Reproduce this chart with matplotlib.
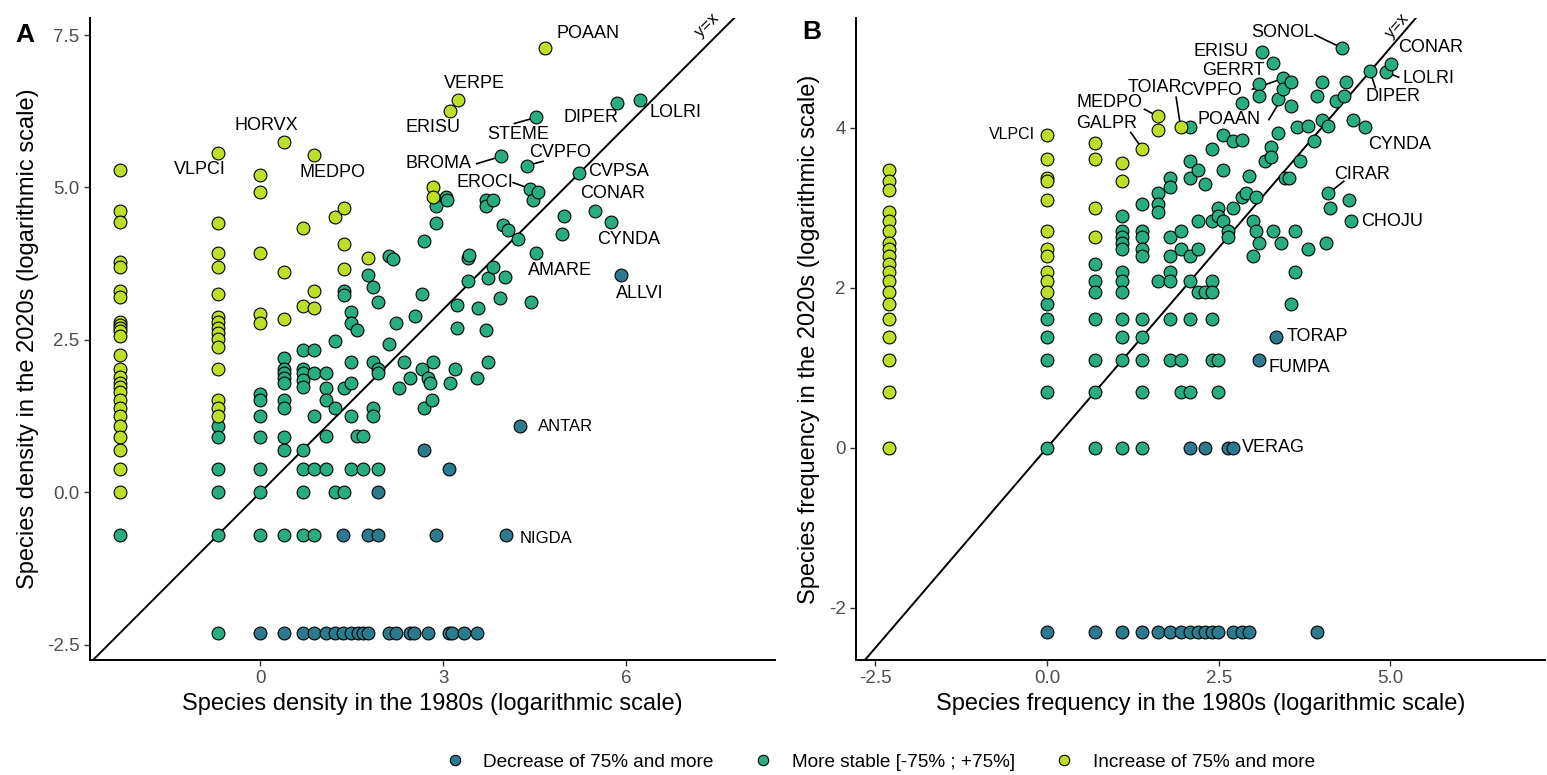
import numpy as np
import matplotlib
matplotlib.use("Agg")
import matplotlib.pyplot as plt
from matplotlib.lines import Line2D

plt.rcParams['font.family'] = ['Liberation Sans', 'DejaVu Sans']
plt.rcParams['axes.unicode_minus'] = False

# colours of the three trend classes
COL_DEC = "#2B7A8E"
COL_STA = "#27AD81"
COL_INC = "#BCDF27"
legend_labels = ["Decrease of 75% and more", "More stable [-75% ; +75%]", "Increase of 75% and more"]

# ---------------- Panel A : densities (log values) ----------------
# increase
a_inc = {
    -2.30: [5.28, 4.61, 4.43, 3.77, 3.69, 3.31, 3.21, 2.80, 2.74, 2.70, 2.65, 2.57, 2.25,
            2.02, 1.89, 1.80, 1.72, 1.64, 1.51, 1.39, 1.25, 1.08, 0.90, 0.69, 0.39, 0.00],
    -0.69: [5.57, 4.41, 3.92, 3.69, 3.26, 2.87, 2.79, 2.70, 2.61, 2.52, 2.39, 2.02, 1.51, 1.39, 1.26],
    0.00: [5.21, 4.92, 3.92, 2.93, 2.77],
    0.39: [5.74, 3.61, 2.85],
    0.69: [4.34, 3.05],
    0.88: [5.54, 3.31, 3.02],
    1.23: [4.52],
    1.37: [4.66, 4.08, 3.67],
    1.76: [3.84],
    2.83: [5.00, 4.84],
    3.12: [6.26],
    3.24: [6.44],
    4.67: [7.28],
}
# more stable
a_sta = {
    -2.30: [-0.70],
    -0.69: [1.08, 0.90, 0.39, 0.00, -0.70, -2.30],
    0.00: [1.62, 1.51, 1.25, 0.90, 0.39, 0.00, -0.70],
    0.39: [2.20, 2.02, 1.95, 1.87, 1.79, 1.51, 1.38, 0.90, 0.69, -0.70],
    0.69: [2.34, 2.03, 1.95, 1.84, 1.72, 0.69, 0.39, 0.00, -0.70],
    0.88: [2.34, 1.95, 1.25, 0.39, -0.70],
    1.08: [1.95, 1.71, 1.51, 0.92, 0.39],
    1.23: [2.48, 1.39, 0.00],
    1.37: [3.30, 3.23, 1.71, 0.00],
    1.49: [2.95, 2.77, 2.13, 1.79, 1.25, 0.39],
    1.58: [2.67, 0.92],
    1.68: [0.92, 0.39],
    1.76: [3.56],
    1.85: [3.36, 2.13, 1.39, 1.25],
    1.93: [3.13, 2.02, 1.95, 0.39],
    2.11: [3.87, 2.44],
    2.17: [3.83],
    2.22: [2.77],
    2.27: [1.71],
    2.35: [2.13],
    2.45: [1.87],
    2.53: [2.89],
    2.65: [3.26, 2.02],
    2.68: [4.13, 1.39],
    2.75: [1.87],
    2.78: [1.79],
    2.81: [1.51],
    2.83: [2.13],
    2.89: [4.70, 4.41],
    3.04: [4.85],
    3.07: [4.80],
    3.12: [1.79],
    3.20: [2.02],
    3.22: [3.07, 2.70],
    3.40: [3.85, 3.46],
    3.43: [3.89],
    3.55: [1.87],
    3.58: [3.02],
    3.71: [4.79, 4.69, 2.67],
    3.74: [3.51, 2.13],
    3.82: [4.79, 3.70],
    3.94: [3.18],
    3.95: [5.51],
    3.99: [4.38],
    4.02: [3.53],
    4.07: [4.31],
    4.23: [4.16],
    4.38: [5.36],
    4.43: [4.98],
    4.44: [3.13],
    4.48: [4.80],
    4.53: [6.15, 3.92],
    4.56: [4.93],
    4.95: [4.23],
    4.98: [4.54],
    5.23: [5.23],
    5.49: [4.62],
    5.75: [4.43],
    5.85: [6.39],
    6.24: [6.44],
}
# decrease
a_dec_bottom_x = [0.00, 0.39, 0.69, 0.88, 1.08, 1.23, 1.36, 1.49, 1.60, 1.68, 1.76, 2.11,
                  2.22, 2.45, 2.52, 2.75, 3.10, 3.15, 3.35, 3.56]
a_dec_x = [1.36, 1.76, 1.93, 2.89, 4.04, 1.93, 3.10, 2.68, 4.27, 5.92]
a_dec_y = [-0.70, -0.70, -0.70, -0.70, -0.70, 0.00, 0.39, 0.69, 1.08, 3.56]

# ---------------- Panel B : frequencies (counts; 0 is drawn at log(0.1)) ----------------
b_inc = {
    0: [32, 28, 25, 19, 17, 15, 13, 12, 11, 10, 9, 8, 7, 6, 5, 4, 3, 2, 1],
    1: [50, 37, 29, 28, 22, 15, 12, 11, 9, 8, 7],
    2: [45, 37, 20, 14],
    3: [35, 28],
    4: [42],
    5: [63, 53],
    7: [55],
}
b_sta = {
    1: [6, 5, 4, 3, 2, 1],
    2: [10, 8, 7, 5, 3, 2, 1],
    3: [18, 15, 14, 13, 12, 9, 8, 7, 5, 4, 3, 1],
    4: [21, 15, 14, 12, 11, 5, 4, 3, 2, 1],
    5: [24, 21, 19, 8],
    6: [29, 26, 14, 11, 9, 8, 5, 3],
    7: [15, 12, 3, 2],
    8: [55, 36, 29, 11, 8, 5, 2],
    9: [32, 17, 12, 7],
    10: [27, 7],
    11: [42, 17, 8, 7, 5, 3],
    12: [20, 18, 3, 2],
    13: [50, 32, 17],
    14: [15, 14],
    15: [46, 20],
    17: [74, 47, 23],
    18: [24],
    19: [30],
    20: [17, 11],
    21: [23, 15],
    22: [94, 81, 13],
    23: [141],
    24: [36],
    26: [43, 38],
    27: [123, 15],
    29: [78, 51],
    30: [13],
    31: [101, 88],
    32: [29],
    34: [29],
    35: [96, 72, 6],
    37: [15, 9],
    38: [55],
    40: [36],
    45: [56, 12],
    49: [46],
    51: [81],
    55: [96, 60],
    58: [13],
    60: [56, 24],
    62: [20],
    67: [76],
    73: [148],
    76: [81],
    78: [96],
    81: [22],
    83: [17],
    86: [60],
    102: [55],
    110: [111],
    140: [109],
    150: [121],
}
b_dec_f80 = [1, 2, 3, 4, 5, 6, 7, 8, 9, 10, 11, 12, 15, 17, 19, 51, 8, 10, 14, 15, 28, 22]
b_dec_f20 = [0, 0, 0, 0, 0, 0, 0, 0, 0, 0, 0, 0, 0, 0, 0, 0, 1, 1, 1, 1, 4, 3]

# species labels (name, text x, text y) in axis units
a_labels = [
    ("POAAN", 5.38, 7.52), ("VERPE", 3.51, 6.70), ("ERISU", 2.83, 5.98),
    ("STEME", 4.23, 5.87), ("DIPER", 5.42, 6.15), ("LOLRI", 6.81, 6.23),
    ("BROMA", 2.92, 5.39), ("CVPFO", 4.92, 5.57), ("CVPSA", 5.88, 5.26),
    ("EROCI", 3.68, 5.08), ("CONAR", 5.78, 4.90), ("CYNDA", 6.05, 4.15),
    ("AMARE", 4.92, 3.64), ("ALLVI", 6.23, 3.26), ("VLPCI", -1.00, 5.30),
    ("HORVX", 0.10, 6.02), ("MEDPO", 1.19, 5.25),
]
a_small_labels = [("ANTAR", 4.56, 1.08), ("NIGDA", 4.26, -0.75)]
a_segments = [((4.17, 6.05), (4.53, 6.15)), ((3.55, 5.39), (3.95, 5.51)),
              ((4.64, 5.43), (4.38, 5.36)), ((4.15, 5.08), (4.43, 4.98))]

b_labels = [
    ("MEDPO", 0.91, 4.31), ("GALPR", 0.87, 4.05), ("TOIAR", 1.57, 4.50),
    ("CVPFO", 2.39, 4.46), ("POAAN", 2.65, 4.10), ("ERISU", 2.54, 4.95),
    ("GERRT", 2.71, 4.72), ("SONOL", 3.43, 5.19), ("CONAR", 5.59, 5.00),
    ("LOLRI", 5.55, 4.61), ("DIPER", 5.04, 4.39), ("CYNDA", 5.13, 3.79),
    ("CIRAR", 4.58, 3.41),
]
b_left_labels = [("CHOJU", 4.57, 2.83), ("TORAP", 3.49, 1.39), ("FUMPA", 3.23, 1.01),
                 ("VERAG", 2.84, 0.0)]
b_segments = [((1.42, 4.23), (5, 63)), ((1.22, 3.94), (4, 42)), ((1.88, 4.38), (7, 55)),
              ((2.99, 4.48), (31, 101)), ((3.23, 4.10), (35, 96)), ((3.90, 5.16), (73, 148)),
              ((4.78, 4.50), (110, 111)), ((5.12, 4.63), (140, 109)), ((4.32, 3.33), (60, 24))]


def flog(v):
    v = np.asarray(v, dtype=float)
    return np.log(np.where(v == 0, 0.1, v))


def unpack(d):
    xs, ys = [], []
    for k, vals in d.items():
        xs += [k] * len(vals)
        ys += vals
    return np.array(xs, dtype=float), np.array(ys, dtype=float)


def style_axis(ax):
    for s in ["top", "right"]:
        ax.spines[s].set_visible(False)
    for s in ["left", "bottom"]:
        ax.spines[s].set_linewidth(1.4)
    ax.tick_params(direction="out", length=4, width=1, color="#333333",
                   labelcolor="#4D4D4D", labelsize=13.5)


fig = plt.figure(figsize=(15.47, 7.75), dpi=100)
axA = fig.add_axes([90 / 1547, 115 / 775, 685 / 1547, 642 / 775])
axB = fig.add_axes([856 / 1547, 115 / 775, 689 / 1547, 642 / 775])

pt = dict(s=85, edgecolors="black", linewidths=0.8, zorder=3)
lab = dict(fontsize=13, ha="center", va="center", zorder=4)

# ---- panel A
axA.axline((0, 0), slope=1, color="black", lw=1.4, zorder=2)
x, y = unpack(a_sta)
axA.scatter(x, y, color=COL_STA, **pt)
x, y = unpack(a_inc)
axA.scatter(x, y, color=COL_INC, **pt)
axA.scatter(a_dec_bottom_x, [-2.30] * len(a_dec_bottom_x), color=COL_DEC, **pt)
axA.scatter(a_dec_x, a_dec_y, color=COL_DEC, **pt)
for name, tx, ty in a_labels:
    axA.text(tx, ty, name, **lab)
for name, tx, ty in a_small_labels:
    axA.text(tx, ty, name, fontsize=12, ha="left", va="center", zorder=4)
for (x0, y0), (x1, y1) in a_segments:
    axA.plot([x0, x1], [y0, y1], color="black", lw=1.2, zorder=2)
axA.text(7.33, 7.66, "y=x", rotation=45, fontsize=12, ha="center", va="center")
axA.set_xlim(-2.8, 8.45)
axA.set_ylim(-2.75, 7.78)
axA.set_xticks([0, 3, 6])
axA.set_yticks([-2.5, 0, 2.5, 5, 7.5])
axA.set_yticklabels(["-2.5", "0.0", "2.5", "5.0", "7.5"])
axA.set_xlabel("Species density in the 1980s (logarithmic scale)", fontsize=17, labelpad=4)
axA.set_ylabel("Species density in the 2020s (logarithmic scale)", fontsize=17, labelpad=6)
style_axis(axA)
fig.text(25 / 1547, 1 - 35 / 775, "A", fontsize=19, fontweight="bold", ha="center", va="center")

# ---- panel B
axB.axline((0, 0), slope=1, color="black", lw=1.4, zorder=2)
x, y = unpack(b_sta)
axB.scatter(flog(x), flog(y), color=COL_STA, **pt)
x, y = unpack(b_inc)
axB.scatter(flog(x), flog(y), color=COL_INC, **pt)
axB.scatter(flog(b_dec_f80), flog(b_dec_f20), color=COL_DEC, **pt)
for name, tx, ty in b_labels:
    axB.text(tx, ty, name, **lab)
for name, tx, ty in b_left_labels:
    axB.text(tx, ty, name, fontsize=13, ha="left", va="center", zorder=4)
axB.text(-0.18, 3.91, "VLPCI", fontsize=11.5, ha="right", va="center", zorder=4)
for (x0, y0), (c80, c20) in b_segments:
    axB.plot([x0, np.log(c80)], [y0, np.log(c20)], color="black", lw=1.2, zorder=2)
axB.text(5.09, 5.27, "y=x", rotation=49, fontsize=12, ha="center", va="center")
axB.set_xlim(-2.78, 7.25)
axB.set_ylim(-2.65, 5.37)
axB.set_xticks([-2.5, 0, 2.5, 5])
axB.set_xticklabels(["-2.5", "0.0", "2.5", "5.0"])
axB.set_yticks([-2, 0, 2, 4])
axB.set_xlabel("Species frequency in the 1980s (logarithmic scale)", fontsize=17, labelpad=4)
axB.set_ylabel("Species frequency in the 2020s (logarithmic scale)", fontsize=17, labelpad=6)
style_axis(axB)
fig.text(812 / 1547, 1 - 32 / 775, "B", fontsize=19, fontweight="bold", ha="center", va="center")

# ---- legend
handles = [Line2D([], [], marker="o", ls="", markerfacecolor=c, markeredgecolor="black",
                  markeredgewidth=0.8, markersize=7.5) for c in (COL_DEC, COL_STA, COL_INC)]
fig.legend(handles, legend_labels, loc="center", bbox_to_anchor=(880 / 1547, 13 / 775), ncol=3,
           frameon=False, fontsize=13.7, handlelength=1.0, handletextpad=1.0,
           columnspacing=2.1)

fig.savefig("out.png", dpi=100)
